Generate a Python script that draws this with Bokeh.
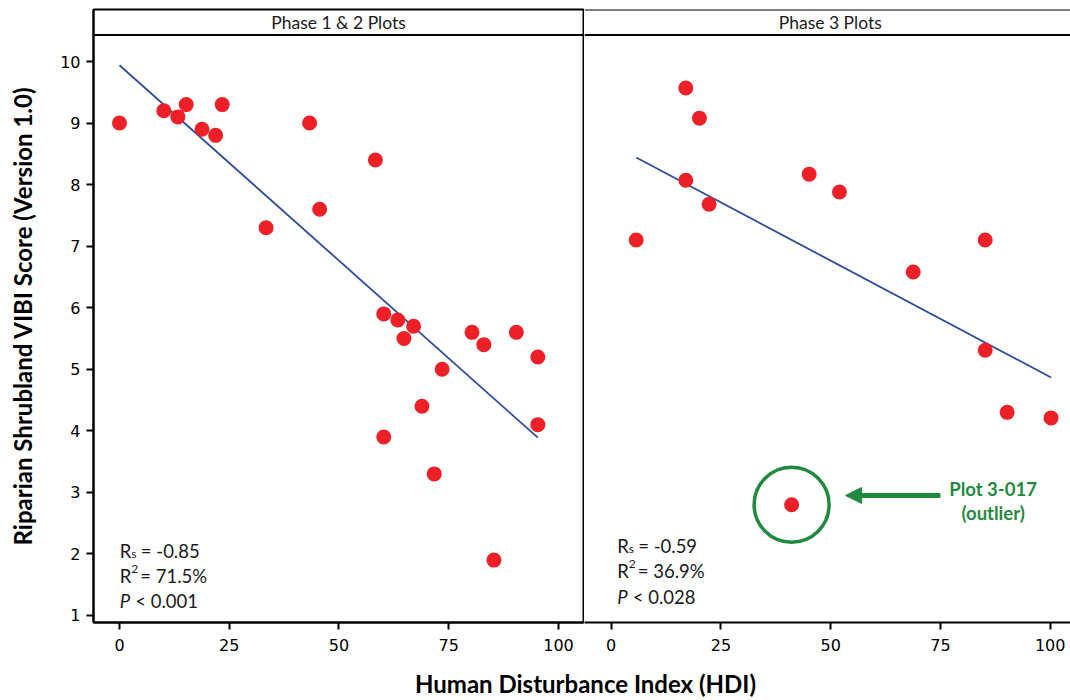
from bokeh.plotting import figure
from bokeh.models import Range1d, Label, Span, Arrow, NormalHead, FixedTicker
from bokeh.layouts import row, column
from bokeh.embed import file_html
from bokeh.resources import INLINE
from bokeh.core.properties import value

# ---------------- data ----------------
panel_titles = ["Phase 1 & 2 Plots", "Phase 3 Plots"]

hdi_p12 = [0, 10.1, 13.3, 15.2, 18.8, 21.9, 23.4, 33.4, 43.3, 45.6, 58.3, 60.2, 60.2,
           63.4, 64.8, 67.0, 68.9, 71.7, 73.5, 80.3, 83.0, 85.3, 90.4, 95.3, 95.3]
vibi_p12 = [9.0, 9.2, 9.1, 9.3, 8.9, 8.8, 9.3, 7.3, 9.0, 7.6, 8.4, 5.9, 3.9,
            5.8, 5.5, 5.7, 4.4, 3.3, 5.0, 5.6, 5.4, 1.9, 5.6, 5.2, 4.1]

hdi_p3 = [5.7, 17.0, 17.0, 20.1, 22.3, 45.1, 52.0, 68.8, 85.2, 85.2, 90.2, 100.2]
vibi_p3 = [7.1, 9.57, 8.07, 9.08, 7.68, 8.17, 7.88, 6.58, 7.1, 5.31, 4.3, 4.21]

outlier_hdi = [41.1]
outlier_vibi = [2.8]
outlier_label = ["Plot 3-017", "(outlier)"]

fit_p12 = {"intercept": 9.94, "slope": -0.0635}
fit_p3 = {"intercept": 8.655, "slope": -0.0378}

stats_p12 = {"rs": "-0.85", "r2": "71.5%", "p": "0.001"}
stats_p3 = {"rs": "-0.59", "r2": "36.9%", "p": "0.028"}

x_ticks = [0, 25, 50, 75, 100]
y_ticks = [1, 2, 3, 4, 5, 6, 7, 8, 9, 10]

x_label = "Human Disturbance Index (HDI)"
y_label = "Riparian Shrubland VIBI Score (Version 1.0)"

# ---------------- styling / geometry ----------------
XS = 4.39      # px per HDI unit
YS = 61.556    # px per VIBI unit
Y_RANGE = (0.886, 10.845)
HEADER_Y = 10.43
RED = "#EE2027"
BLUE = "#2E4C9E"
GREEN = "#1F8A3E"
INK = "#1A1A1A"
TXT_FONT = "Lato"
TICK_FONT = "DejaVu Sans"
FIG_H = 666
STAT_SIZE = "18.5px"
SMALL_SIZE = "12px"


def style_axis(ax, ticks):
    ax.ticker = FixedTicker(ticks=ticks)
    ax.axis_line_width = 2
    ax.axis_line_color = "black"
    ax.major_tick_line_width = 2
    ax.major_tick_line_color = "black"
    ax.major_tick_out = 7
    ax.major_tick_in = 0
    ax.minor_tick_line_color = None
    ax.major_label_text_font = TICK_FONT
    ax.major_label_text_font_size = "16px"
    ax.major_label_text_color = "black"


def make_panel(width, xr, border_left, border_right, show_y):
    p = figure(width=width, height=FIG_H, x_range=Range1d(*xr), y_range=Range1d(*Y_RANGE),
               output_backend="svg", toolbar_location=None,
               min_border_left=border_left, min_border_right=border_right,
               min_border_top=9, min_border_bottom=44)
    p.grid.visible = False
    p.background_fill_color = "white"
    p.border_fill_color = "white"
    style_axis(p.xaxis[0], x_ticks)
    p.xaxis[0].major_label_standoff = 9
    if show_y:
        style_axis(p.yaxis[0], y_ticks)
        p.yaxis[0].major_label_standoff = 6
        p.yaxis[0].axis_label = y_label
        p.yaxis[0].axis_label_text_font = TXT_FONT
        p.yaxis[0].axis_label_text_font_style = "bold"
        p.yaxis[0].axis_label_text_font_size = "24px"
        p.yaxis[0].axis_label_text_color = "black"
        p.yaxis[0].axis_label_standoff = 20
    else:
        p.yaxis.visible = False
    p.add_layout(Span(location=HEADER_Y, dimension="width", line_color="black", line_width=2))
    return p


def add_fit(p, xs, fit):
    x0, x1 = min(xs), max(xs)
    p.line([x0, x1], [fit["intercept"] + fit["slope"] * x0, fit["intercept"] + fit["slope"] * x1],
           line_color=BLUE, line_width=1.8)


def add_title(p, text):
    p.add_layout(Label(x=49.9, y=(HEADER_Y + Y_RANGE[1]) / 2, text=text, text_font=TXT_FONT,
                       text_font_size="17.5px", text_align="center", text_baseline="middle",
                       text_color=INK))


def add_stats(p, x0, baselines, st):
    y1, y2, y3 = baselines
    kw = dict(text_font=TXT_FONT, text_color=INK, text_baseline="alphabetic")
    p.add_layout(Label(x=x0, y=y1, text="R", text_font_size=STAT_SIZE, **kw))
    p.add_layout(Label(x=x0 + 11.5 / XS, y=y1 - 2.5 / YS, text="s", text_font_size=SMALL_SIZE, **kw))
    p.add_layout(Label(x=x0 + 21 / XS, y=y1, text="= " + st["rs"], text_font_size=STAT_SIZE, **kw))
    p.add_layout(Label(x=x0, y=y2, text="R", text_font_size=STAT_SIZE, **kw))
    p.add_layout(Label(x=x0 + 11.5 / XS, y=y2 + 7 / YS, text="2", text_font_size=SMALL_SIZE, **kw))
    p.add_layout(Label(x=x0 + 20.5 / XS, y=y2, text="= " + st["r2"], text_font_size=STAT_SIZE, **kw))
    p.add_layout(Label(x=x0, y=y3, text="P", text_font_size=STAT_SIZE, text_font_style="italic", **kw))
    p.add_layout(Label(x=x0 + 15.5 / XS, y=y3, text="< " + st["p"], text_font_size=STAT_SIZE, **kw))


# ---------------- left panel ----------------
p1 = make_panel(584, (-5.92, 105.7), 93, 1, True)
p1.outline_line_color = "black"
p1.outline_line_width = 2
p1.outline_line_alpha = 1
add_title(p1, panel_titles[0])
add_fit(p1, hdi_p12, fit_p12)
p1.scatter(hdi_p12, vibi_p12, size=15, fill_color=RED, line_color=None)
add_stats(p1, 0.07, (2.04, 1.642, 1.228), stats_p12)

# ---------------- right panel ----------------
p2 = make_panel(486, (-6.08, 104.63), 0, 0, False)
p2.outline_line_color = None
p2.add_layout(Span(location=Y_RANGE[1], dimension="width", line_color="black", line_width=2))
add_title(p2, panel_titles[1])
add_fit(p2, hdi_p3, fit_p3)
p2.scatter(hdi_p3, vibi_p3, size=15, fill_color=RED, line_color=None)
p2.scatter(outlier_hdi, outlier_vibi, size=15, fill_color=RED, line_color=None)
p2.scatter(outlier_hdi, outlier_vibi, size=75, marker="circle", fill_color=None,
           line_color=GREEN, line_width=3.5)
p2.add_layout(Arrow(end=NormalHead(size=16, fill_color=GREEN, line_color=GREEN),
                    x_start=75.0, y_start=2.95, x_end=53.4, y_end=2.95,
                    line_color=GREEN, line_width=5))
p2.add_layout(Label(x=87.0, y=3.06, text=outlier_label[0], text_font=TXT_FONT,
                    text_font_size=STAT_SIZE, text_font_style="bold", text_color=GREEN,
                    text_align="center", text_baseline="alphabetic"))
p2.add_layout(Label(x=87.0, y=2.67, text=outlier_label[1], text_font=TXT_FONT,
                    text_font_size=STAT_SIZE, text_font_style="bold", text_color=GREEN,
                    text_align="center", text_baseline="alphabetic"))
add_stats(p2, 1.37, (2.121, 1.715, 1.293), stats_p3)

# ---------------- shared x-axis label ----------------
p3 = figure(width=1070, height=34, x_range=Range1d(0, 1070), y_range=Range1d(0, 34),
            output_backend="svg", toolbar_location=None, min_border=0)
p3.axis.visible = False
p3.grid.visible = False
p3.outline_line_color = None
p3.text(x=[585], y=[17], text=[x_label], text_font=value(TXT_FONT), text_font_size="24px",
        text_font_style="bold", text_align="center", text_baseline="middle",
        text_color="black")

layout = column(row(p1, p2, spacing=0), p3, spacing=0)
open("out.html", "w").write(file_html(layout, INLINE))
